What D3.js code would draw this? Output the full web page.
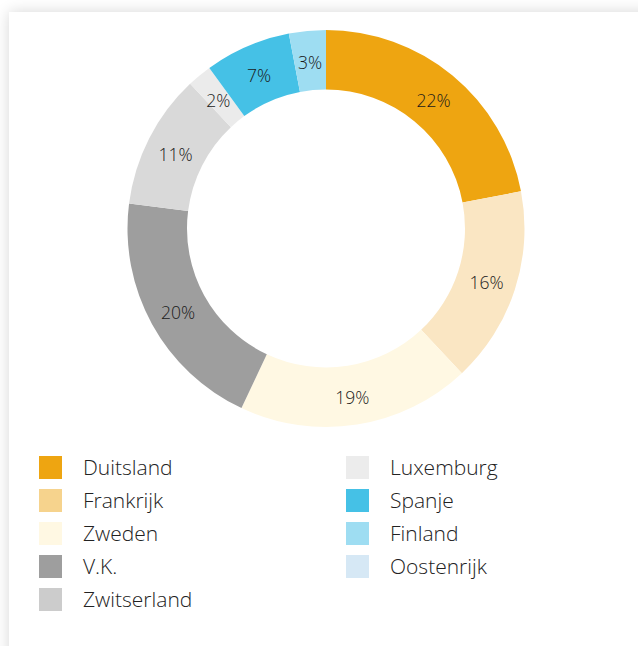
<!DOCTYPE html>
<html><head><meta charset="utf-8">
<script src="https://cdn.jsdelivr.net/npm/d3@7"></script>
<style>
html,body{margin:0;padding:0;background:#fff;overflow:hidden;}
#card{position:absolute;left:9px;top:12px;width:680px;height:700px;background:#fff;box-shadow:0 0 14px rgba(0,0,0,0.16);}
svg{position:absolute;left:0;top:0;}
text{font-family:"Open Sans","Noto Sans",sans-serif;font-weight:300;}
</style></head><body>
<div id="card"></div>
<svg id="chart" width="638" height="646"></svg>
<script>
const categories = ["Duitsland","Frankrijk","Zweden","V.K.","Zwitserland","Luxemburg","Spanje","Finland","Oostenrijk"];
const values = [22,16,19,20,11,2,7,3,0];
const sliceColors = ["#EEA511","#FAE6C3","#FFF8E3","#9E9E9E","#D9D9D9","#EBEBEB","#45C1E6","#9EDDF2","#D6E8F5"];
const legendColors = ["#EEA511","#F6D38D","#FFF8E3","#9E9E9E","#CCCCCC","#ECECEC","#45C1E6","#9EDDF2","#D6E8F5"];

const svg = d3.select("#chart");
const cx = 326, cy = 228.5, rOuter = 198.5, rInner = 139;
const pie = d3.pie().sort(null).value(d => d.v);
const data = categories.map((c,i)=>({c, v: values[i], i}));
const arcs = pie(data);
const arc = d3.arc().innerRadius(rInner).outerRadius(rOuter);
const g = svg.append("g").attr("transform",`translate(${cx},${cy})`);
g.selectAll("path").data(arcs).join("path")
  .attr("d",arc).attr("fill",d=>sliceColors[d.data.i]);
g.selectAll("text").data(arcs.filter(d=>d.data.v>0)).join("text")
  .attr("transform",d=>`translate(${arc.centroid(d)})`)
  .attr("text-anchor","middle").attr("dy","0.5em")
  .attr("font-size",17.5).attr("fill","#1a1a1a")
  .text(d=>d.data.v+"%");

const leg = svg.append("g");
const perCol = 5;
const item = leg.selectAll("g").data(data).join("g")
  .attr("transform",(d,i)=>`translate(${i<perCol?39:346},${456+(i%perCol)*33})`);
item.append("rect").attr("width",23).attr("height",23).attr("fill",d=>legendColors[d.i]);
item.append("text").attr("x",44).attr("y",11.5).attr("dy","0.36em")
  .attr("font-size",21).attr("fill","#222").text(d=>d.c);
</script>
</body></html>
